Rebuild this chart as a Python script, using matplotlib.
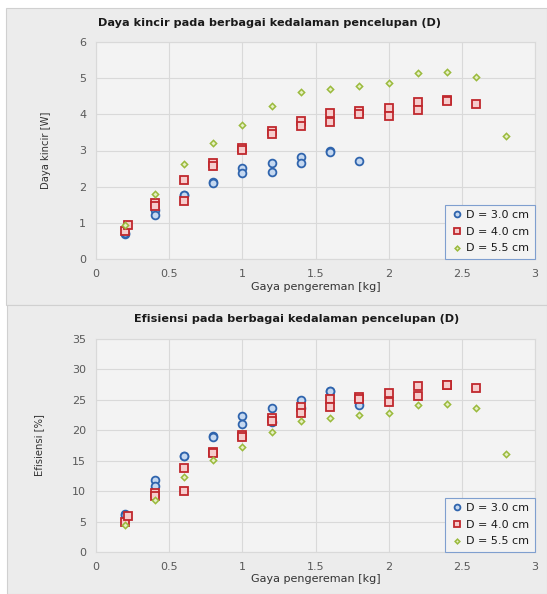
import matplotlib
matplotlib.use("Agg")
import matplotlib.pyplot as plt
from matplotlib.patches import Rectangle

# ---- data ----
x_30 = [0.2, 0.2, 0.4, 0.4, 0.6, 0.6, 0.8, 0.8, 1.0, 1.0, 1.2, 1.2, 1.4, 1.4, 1.6, 1.6, 1.8]
p_30 = [0.70, 0.73, 1.36, 1.23, 1.77, 1.76, 2.13, 2.11, 2.52, 2.37, 2.66, 2.41, 2.81, 2.66, 2.99, 2.97, 2.71]
e_30 = [6.2, 6.1, 11.9, 10.9, 15.8, 15.7, 19.1, 18.9, 22.3, 21.0, 23.6, 21.4, 25.0, 23.6, 26.5, 26.4, 24.1]

x_40 = [0.2, 0.22, 0.4, 0.4, 0.6, 0.6, 0.8, 0.8, 1.0, 1.0, 1.2, 1.2, 1.4, 1.4, 1.6, 1.6,
        1.8, 1.8, 2.0, 2.0, 2.2, 2.2, 2.4, 2.4, 2.6]
p_40 = [0.78, 0.94, 1.54, 1.46, 2.19, 1.59, 2.65, 2.58, 3.06, 3.02, 3.54, 3.46, 3.82, 3.68, 4.03, 3.79,
        4.08, 4.02, 4.17, 3.95, 4.35, 4.11, 4.39, 4.38, 4.29]
e_40 = [5.0, 5.9, 9.7, 9.2, 13.8, 10.0, 16.5, 16.2, 19.2, 18.9, 22.1, 21.6, 23.9, 22.9, 25.1, 23.8,
        25.5, 25.1, 26.1, 24.7, 27.2, 25.7, 27.5, 27.4, 26.9]

x_55 = [0.2, 0.4, 0.6, 0.8, 1.0, 1.2, 1.4, 1.6, 1.8, 2.0, 2.2, 2.4, 2.6, 2.8]
p_55 = [0.95, 1.80, 2.62, 3.21, 3.70, 4.22, 4.62, 4.71, 4.78, 4.88, 5.14, 5.17, 5.04, 3.41]
e_55 = [4.5, 8.5, 12.3, 15.1, 17.3, 19.8, 21.6, 22.0, 22.5, 22.9, 24.1, 24.3, 23.7, 16.1]

labels = ["D = 3.0 cm", "D = 4.0 cm", "D = 5.5 cm"]
xticks = [0, 0.5, 1, 1.5, 2, 2.5, 3]
xticklabels = ["0", "0.5", "1", "1.5", "2", "2.5", "3"]

W, H = 547, 594
fig = plt.figure(figsize=(W / 100, H / 100), dpi=100)
fig.patch.set_facecolor("white")

panel_bg = "#ececec"
plot_bg = "#f3f3f3"
grid_c = "#d9d9d9"
tick_c = "#595959"

# panels
fig.add_artist(Rectangle((6 / W, 1 - 305 / H), 541 / W, 297 / H, transform=fig.transFigure,
                         facecolor=panel_bg, edgecolor="#d0d0d0", lw=0.8, zorder=0))
fig.add_artist(Rectangle((7 / W, 0), 540 / W, 289 / H, transform=fig.transFigure,
                         facecolor=panel_bg, edgecolor="#d0d0d0", lw=0.8, zorder=0))

def px_axes(l, t, r, b):
    return fig.add_axes([l / W, 1 - b / H, (r - l) / W, (b - t) / H])

ax1 = px_axes(96, 42, 535, 259)
ax2 = px_axes(96, 339, 535, 552)

styles = [
    dict(marker="o", ms=5.6, mfc="#c5d8f0", mec="#2f64ad", mew=1.3),
    dict(marker="s", ms=5.3, mfc="#f6cccc", mec="#c0282d", mew=1.3),
    dict(marker="D", ms=3.2, mfc="#e6efc4", mec="#9aba3c", mew=1.1),
]

panels = [
    (ax1, [p_30, p_40, p_55], 6, 1, "Daya kincir [W]",
     "Daya kincir pada berbagai kedalaman pencelupan (D)", 269, 23),
    (ax2, [e_30, e_40, e_55], 35, 5, "Efisiensi [%]",
     "Efisiensi pada berbagai kedalaman pencelupan (D)", 297, 319),
]

for ax, ys, ymax, ystep, ylabel, title, tx, ty in panels:
    ax.set_facecolor(plot_bg)
    ax.set_xlim(0, 3)
    ax.set_ylim(0, ymax)
    ax.set_xticks(xticks)
    ax.set_xticklabels(xticklabels)
    ax.set_yticks(list(range(0, ymax + 1, ystep)))
    ax.grid(True, color=grid_c, lw=0.8)
    ax.set_axisbelow(True)
    for s in ax.spines.values():
        s.set_color(grid_c)
        s.set_linewidth(0.8)
    ax.tick_params(length=0, colors=tick_c, labelsize=8, pad=7)
    ax.set_xlabel("Gaya pengereman [kg]", fontsize=8, color="#333333", labelpad=2)
    ax.set_ylabel(ylabel, fontsize=8, color="#333333", labelpad=20, fontstretch="condensed")
    fig.text(tx / W, 1 - ty / H, title, ha="center", va="center", fontsize=8.1,
             fontweight="bold", color="#1a1a1a")
    for xs, yv, st, lab in zip([x_30, x_40, x_55], ys, styles, labels):
        ax.plot(xs, yv, ls="none", label=lab, **st)
    leg = ax.legend(loc="lower right", fontsize=8, frameon=True, fancybox=False,
                    borderaxespad=0.0, handletextpad=0.2, handlelength=1.2,
                    borderpad=0.5, labelspacing=0.6, markerscale=0.75)
    leg.get_frame().set_edgecolor("#7f9fcf")
    leg.get_frame().set_facecolor(plot_bg)
    leg.get_frame().set_linewidth(0.8)
    leg.get_frame().set_alpha(1)
    for t in leg.get_texts():
        t.set_color("#1a1a1a")

fig.savefig("out.png", dpi=100, facecolor=fig.get_facecolor())
